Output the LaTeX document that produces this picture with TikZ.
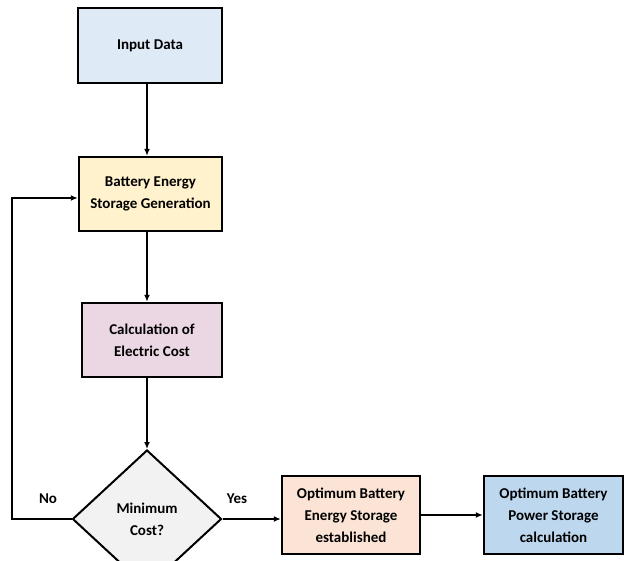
\documentclass[tikz,border=0pt]{standalone}
\usepackage{fontspec}
\setmainfont{Carlito}
\usetikzlibrary{shapes.geometric,arrows.meta}
\definecolor{cinput}{HTML}{DEEAF6}
\definecolor{cbesg}{HTML}{FFF2CC}
\definecolor{ccalc}{HTML}{EAD7E3}
\definecolor{cdia}{HTML}{F2F2F2}
\definecolor{copt}{HTML}{FBE4D5}
\definecolor{cpow}{HTML}{BDD7EE}
\tikzset{
  box/.style={draw=black, line width=2.4pt, rectangle, align=center,
    font=\fontsize{15}{22}\selectfont\bfseries, inner sep=2pt},
  decision/.style={draw=black, line width=2pt, diamond, align=center,
    font=\fontsize{15}{22}\selectfont\bfseries, inner sep=0pt},
  conn/.style={line width=1.7pt, -{Latex[length=7pt,width=6pt]}},
  lbl/.style={font=\fontsize{15}{16}\selectfont\bfseries}
}
\begin{document}
\begin{tikzpicture}[x=1pt,y=-1pt]
\clip (0,0) rectangle (624,561);
\fill[white] (0,0) rectangle (624,561);
\node[box, fill=cinput, minimum width=144pt, minimum height=75pt] (input) at (150,45.5) {Input Data};
\node[box, fill=cbesg, minimum width=143pt, minimum height=74pt] (besg) at (150.5,194) {Battery Energy\\Storage Generation};
\node[box, fill=ccalc, minimum width=140pt, minimum height=74pt] (calc) at (152,340) {Calculation of\\Electric Cost};
\node[decision, fill=cdia, minimum width=149pt, minimum height=138pt] (dia) at (147,519) {Minimum\\Cost?};
\node[box, fill=copt, minimum width=138pt, minimum height=78pt] (opt) at (351,515) {Optimum Battery\\Energy Storage\\established};
\node[box, fill=cpow, minimum width=139pt, minimum height=78pt] (pow) at (553.5,515) {Optimum Battery\\Power Storage\\calculation};
\node[lbl] (no) at (48,499) {No};
\node[lbl] (yes) at (237,499) {Yes};
\coordinate (lc) at (12,519);
\draw[conn] (input.south -| dia.north) -- (besg.north -| dia.north);
\draw[conn] (besg.south -| dia.north) -- (calc.north -| dia.north);
\draw[conn] (calc.south -| dia.north) -- (dia.north);
\draw[conn] (dia.east) -- (dia.east -| opt.west);
\draw[conn] (opt.east) -- (pow.west);
\draw[conn] (dia.west) -- (lc) |- ([yshift=-4pt]besg.west);
\end{tikzpicture}
\end{document}
